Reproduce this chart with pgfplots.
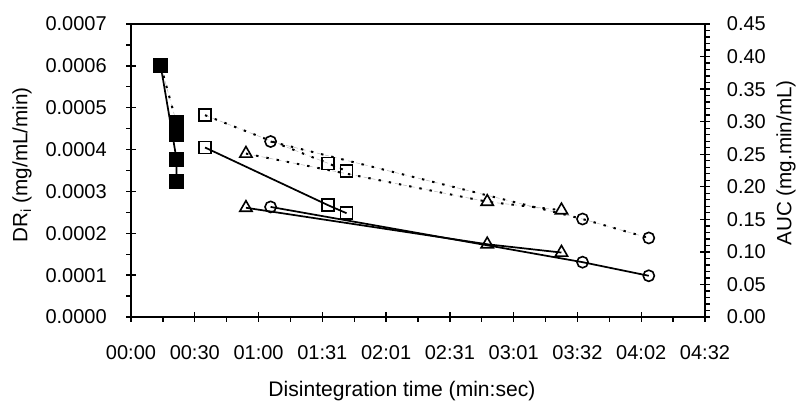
\documentclass[border=0pt]{standalone}
\usepackage{fontspec}
\setmainfont{Liberation Sans}
\usepackage{pgfplots}
\pgfplotsset{compat=1.18}
\tikzset{mk/.style={solid, line width=1.2pt}}
\begin{document}
\begin{tikzpicture}
\useasboundingbox (-98.25pt,-63pt) rectangle (500.25pt,237.75pt);
\pgfplotsset{
  common/.style={
    at={(0,0)}, anchor=south west, scale only axis,
    width=430.5pt, height=219.75pt,
    xmin=0, xmax=272.16,
    clip=false,
    axis line style={line width=1.3pt},
    tick style={line width=1pt, black},
    tick align=center,
    major tick length=7pt, minor tick length=3.5pt,
    tick label style={font=\fontsize{15}{18}\selectfont, inner sep=0pt},
    label style={font=\fontsize{15.5}{18}\selectfont},
    scaled y ticks=false,
  },
  dr/.style={black, line width=1.3pt},
  auc/.style={black, line width=1.5pt, dash pattern=on 1.8pt off 6pt},
  aucthin/.style={gray!55, line width=0.4pt, dash pattern=on 3pt off 3pt, forget plot},
}
\begin{axis}[common,
  ymin=0, ymax=0.0007,
  xtick={0,30.24,60.48,90.72,120.96,151.2,181.44,211.68,241.92,272.16},
  xticklabels={\mbox{00:00},\mbox{00:30},\mbox{01:00},\mbox{01:31},\mbox{02:01},\mbox{02:31},\mbox{03:01},\mbox{03:32},\mbox{04:02},\mbox{04:32}},
  minor x tick num=1,
  xtick pos=bottom,
  ytick={0,0.0001,0.0002,0.0003,0.0004,0.0005,0.0006,0.0007},
  yticklabels={0.0000,0.0001,0.0002,0.0003,0.0004,0.0005,0.0006,0.0007},
  minor y tick num=1,
  ytick pos=left,
  minor y tick style={xshift=-1.75pt},
  minor x tick style={yshift=-1.75pt},
  xticklabel style={anchor=center, yshift=-23.25pt},
  yticklabel style={anchor=east, xshift=-14.5pt},
  xlabel={Disintegration time (min:sec)},
  xlabel style={at={(axis description cs:0.472,-0.273)}, anchor=base, font=\fontsize{15.8}{18}\selectfont},
  ylabel={DR\textsubscript{i} (mg/mL/min)},
  ylabel style={at={(axis description cs:-0.19,0.519)}, anchor=center, rotate=0},
]
\addplot[dr, mark=square*, mark size=5.1pt, mark options={mk, fill=black}] coordinates {(14.1,0.0006) (21.6,0.000377) (21.6,0.000324)};
\addplot[dr, mark=square, mark size=4.5pt, mark options={mk}] coordinates {(35.1,0.000405) (93.5,0.000267) (102.2,0.000248)};
\addplot[dr, mark=triangle, mark size=5.3pt, mark options={mk}] coordinates {(54.5,0.000261) (168.9,0.0001738) (204.1,0.000154)};
\addplot[dr, mark=o, mark size=4.2pt, mark options={mk}] coordinates {(66.2,0.000263) (214.1,0.000131) (245.5,0.0000985)};
\end{axis}
\begin{axis}[common,
  ymin=0, ymax=0.45,
  axis x line=none, axis y line*=right,
  ytick={0,0.05,0.1,0.15,0.2,0.25,0.3,0.35,0.4,0.45},
  yticklabels={0.00,0.05,0.10,0.15,0.20,0.25,0.30,0.35,0.40,0.45},
  minor y tick num=4,
  minor y tick style={xshift=1.75pt},
  yticklabel style={anchor=west, xshift=12.75pt},
  ylabel={AUC (mg.min/mL)},
  ylabel style={at={(axis description cs:1.141,0.526)}, anchor=center, rotate=0},
]
\addplot[aucthin] coordinates {(14.1,0.386) (21.6,0.298) (21.6,0.281)};
\addplot[aucthin] coordinates {(35.1,0.31) (93.5,0.236) (102.2,0.224)};
\addplot[aucthin] coordinates {(54.5,0.251) (168.9,0.177) (204.1,0.164)};
\addplot[aucthin] coordinates {(66.2,0.2695) (214.1,0.1505) (245.5,0.1214)};
\addplot[auc, mark=square*, mark size=5.1pt, mark options={mk, fill=black}] coordinates {(14.1,0.386) (21.6,0.298) (21.6,0.281)};
\addplot[auc, mark=square, mark size=4.5pt, mark options={mk}] coordinates {(35.1,0.31) (93.5,0.236) (102.2,0.224)};
\addplot[auc, mark=triangle, mark size=5.3pt, mark options={mk}] coordinates {(54.5,0.251) (168.9,0.177) (204.1,0.164)};
\addplot[auc, mark=o, mark size=4.2pt, mark options={mk}] coordinates {(66.2,0.2695) (214.1,0.1505) (245.5,0.1214)};
\end{axis}
\end{tikzpicture}
\end{document}
